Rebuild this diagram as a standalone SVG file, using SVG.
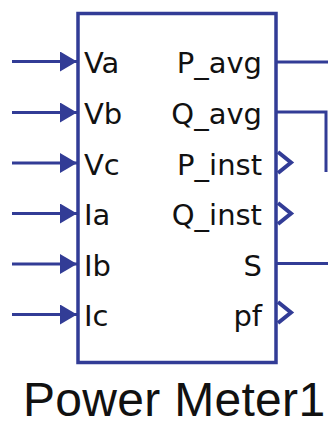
<svg xmlns="http://www.w3.org/2000/svg" width="328" height="427" viewBox="0 0 328 427">
<style>
.w{stroke:#323C96;stroke-width:3;fill:none}
.b{stroke:#323C96;stroke-width:3.5;fill:#fff}
.ch{stroke:#323C96;stroke-width:4;fill:none;stroke-linejoin:miter}
.lbl{font-family:"DejaVu Sans",sans-serif;font-size:29px;fill:#111}
.r{text-anchor:end}
.title{font-family:"Liberation Sans",Arial,sans-serif;font-size:48px;fill:#111}
</style>
<defs>
<marker id="tri" markerUnits="userSpaceOnUse" markerWidth="17" markerHeight="20" refX="17" refY="10" orient="auto">
<path d="M0,0 L17,10 L0,20 Z" fill="#323C96"/>
</marker>
</defs>
<g id="connectors">
<line class="w" x1="12" y1="61.5" x2="77" y2="61.5" marker-end="url(#tri)"/>
<line class="w" x1="12" y1="112.5" x2="77" y2="112.5" marker-end="url(#tri)"/>
<line class="w" x1="12" y1="163" x2="77" y2="163" marker-end="url(#tri)"/>
<line class="w" x1="12" y1="213.5" x2="77" y2="213.5" marker-end="url(#tri)"/>
<line class="w" x1="12" y1="264" x2="77" y2="264" marker-end="url(#tri)"/>
<line class="w" x1="12" y1="314.5" x2="77" y2="314.5" marker-end="url(#tri)"/>
<line class="w" x1="276" y1="62" x2="328" y2="62"/>
<polyline class="w" points="276,112 326,112 326,172"/>
<line class="w" x1="276" y1="263.5" x2="328" y2="263.5"/>
</g>
<g id="power-meter">
<rect class="b" x="78" y="13.5" width="198" height="349"/>
<polyline class="ch" points="278,152 291,162.5 278,173"/>
<polyline class="ch" points="278,203 291,213.5 278,224"/>
<polyline class="ch" points="278,302 291,312.5 278,323"/>
<text class="lbl" x="84" y="73">Va</text>
<text class="lbl" x="84" y="124">Vb</text>
<text class="lbl" x="84" y="174.5">Vc</text>
<text class="lbl" x="84" y="225">Ia</text>
<text class="lbl" x="84" y="275.5">Ib</text>
<text class="lbl" x="84" y="326">Ic</text>
<text class="lbl r" x="262" y="73">P_avg</text>
<text class="lbl r" x="262" y="124">Q_avg</text>
<text class="lbl r" x="262" y="174.5">P_inst</text>
<text class="lbl r" x="262" y="225">Q_inst</text>
<text class="lbl r" x="262" y="275.5">S</text>
<text class="lbl r" x="262" y="326">pf</text>
<text class="title" x="23" y="416" style="letter-spacing:0.3px">Power Meter1</text>
</g>
</svg>
